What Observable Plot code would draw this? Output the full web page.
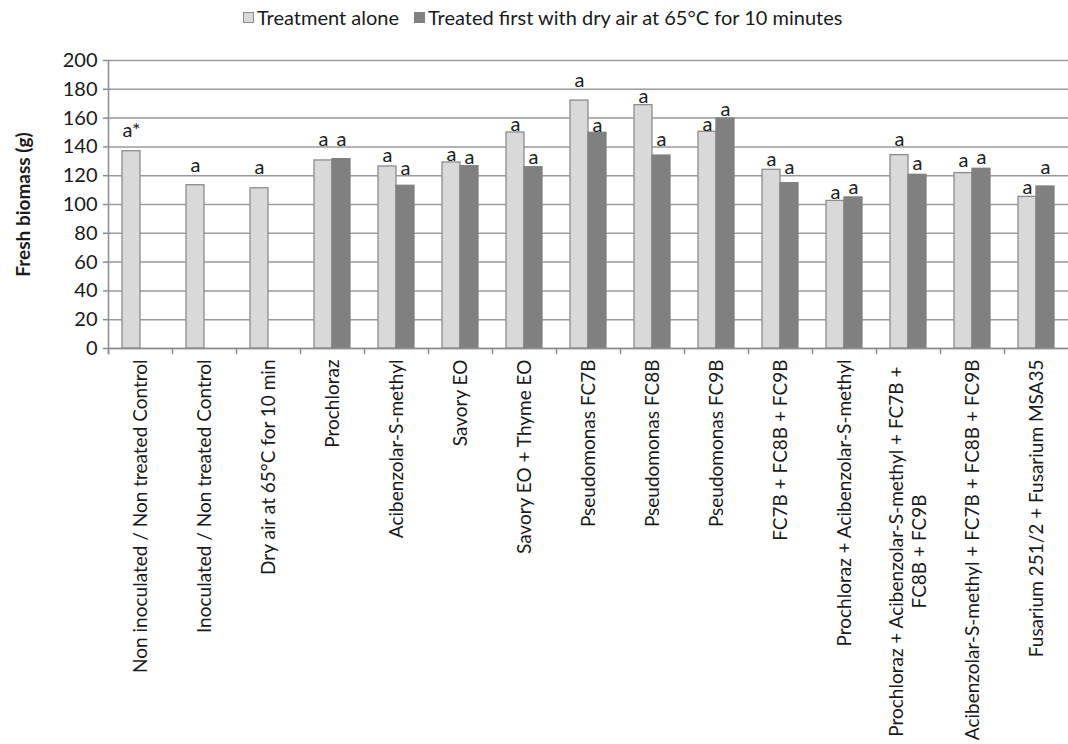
<!DOCTYPE html>
<html><head><meta charset="utf-8">
<script src="https://cdn.jsdelivr.net/npm/d3@7"></script>
<script src="https://cdn.jsdelivr.net/npm/@observablehq/plot@0.6"></script>
<style>
body{margin:0;background:#fff;font-family:Lato,"Open Sans",sans-serif;color:#1a1a1a;}
#legend{height:36px;position:relative;font-size:20px;width:1068px;}
.item{position:absolute;top:5px;display:flex;align-items:center;white-space:nowrap;}
.sw{width:9px;height:9px;margin-right:3px;border:1px solid #8c8c8c;}
</style></head><body>
<div id="legend"></div>
<div id="chart"></div>
<script>
const categories = [
  "Non inoculated / Non treated Control",
  "Inoculated / Non treated Control",
  "Dry air at 65°C for 10 min",
  "Prochloraz",
  "Acibenzolar-S-methyl",
  "Savory EO",
  "Savory EO + Thyme EO",
  "Pseudomonas FC7B",
  "Pseudomonas FC8B",
  "Pseudomonas FC9B",
  "FC7B + FC8B + FC9B",
  "Prochloraz + Acibenzolar-S-methyl",
  "Prochloraz + Acibenzolar-S-methyl + FC7B +\nFC8B + FC9B",
  "Acibenzolar-S-methyl + FC7B + FC8B + FC9B",
  "Fusarium 251/2 + Fusarium MSA35"
];
const seriesNames = ["Treatment alone", "Treated first with dry air at 65°C for 10 minutes"];
const treatmentAlone = [137.0, 113.4, 111.3, 130.6, 126.4, 129.2, 150.0, 172.2, 169.0, 150.5, 124.1, 102.5, 134.3, 121.8, 105.3];
const treatedFirst   = [null, null, null, 131.5, 113.0, 126.6, 125.9, 149.8, 134.0, 159.7, 114.8, 104.9, 120.6, 124.8, 112.5];
const lettersAlone = ["a*", "a", "a", "a", "a", "a", "a", "a", "a", "a", "a", "a", "a", "a", "a"];
const lettersFirst = [null, null, null, "a", "a", "a", "a", "a", "a", "a", "a", "a", "a", "a", "a"];
const letterAtAlone = [151.4, 127.0, 125.5, 145.0, 134.0, 134.7, 155.3, 186.0, 175.0, 155.3, 131.0, 108.1, 145.1, 130.6, 112.0];
const letterAtFirst = [null, null, null, 145.4, 124.8, 132.9, 132.4, 154.9, 145.4, 166.0, 125.5, 112.0, 128.2, 132.4, 125.9];
const yTicks = [0, 20, 40, 60, 80, 100, 120, 140, 160, 180, 200];
const yTitle = "Fresh biomass (g)";
const colors = ["#d9d9d9", "#808080"];
const strokes = ["#8c8c8c", "#808080"];

const rows = [];
categories.forEach((c, i) => {
  [treatmentAlone, treatedFirst].forEach((arr, s) => {
    if (arr[i] != null) rows.push({
      category: c, series: seriesNames[s], value: arr[i],
      letter: s === 0 ? lettersAlone[i] : lettersFirst[i],
      letterAt: s === 0 ? letterAtAlone[i] : letterAtFirst[i]
    });
  });
});

// legend
const legend = d3.select("#legend");
const legendLeft = [243, 414];
seriesNames.forEach((n, s) => {
  const it = legend.append("div").attr("class", "item").style("left", legendLeft[s] + "px");
  it.append("div").attr("class", "sw").style("background", colors[s]).style("border-color", strokes[s]);
  it.append("span").text(n);
});

const W = 1068, H = 708, mt = 24, mb = 396, ml = 107, mr = 0;
const plotH = H - mt - mb;
const axisGray = "#8c8c8c";
const labelPad = 11;
const labelSize = 19;
const multiLine = categories.filter(c => c.includes("\n"));

const chart = Plot.plot({
  width: W, height: H,
  marginTop: mt, marginBottom: mb, marginLeft: ml, marginRight: mr,
  style: {fontFamily: "Lato, 'Open Sans', sans-serif", fontSize: "20px", color: "#1a1a1a", background: "#fff"},
  fx: {domain: categories, padding: 0, label: null, axis: null},
  x: {domain: seriesNames, paddingInner: 0, paddingOuter: 0.74, axis: null},
  y: {domain: [0, 200], label: null, axis: null},
  color: {domain: seriesNames, range: colors},
  marks: [
    Plot.gridY(yTicks, {stroke: "#9a9a9a", strokeOpacity: 1, strokeWidth: 1.5}),
    Plot.barY(rows, {fx: "category", x: "series", y: "value", fill: "series",
      stroke: d => strokes[seriesNames.indexOf(d.series)], strokeWidth: 1.3}),
    Plot.ruleY([0], {stroke: axisGray, strokeWidth: 1.5}),
    Plot.frame({anchor: "left", facetAnchor: "left", insetBottom: -5, stroke: axisGray, strokeWidth: 1.5}),
    Plot.frame({anchor: "left", insetTop: plotH, insetBottom: -5, stroke: axisGray, strokeWidth: 1.5}),
    Plot.axisY(yTicks, {tickSize: 5, tickPadding: 6, stroke: axisGray, strokeWidth: 1.5, label: null, fontSize: 20}),
    Plot.text([yTitle], {frameAnchor: "left", facetAnchor: "left", rotate: -90, textAnchor: "middle", dx: -85, fontWeight: "bold", fontSize: 19}),
    Plot.axisFx({anchor: "bottom", tickSize: 0, tickRotate: -90, tickPadding: labelPad, label: null, fontSize: labelSize,
      tickFormat: d => d.includes("\n") ? "" : d}),
    Plot.text(multiLine, {fx: d => d, text: d => d.split("\n")[0],
      frameAnchor: "bottom", rotate: -90, textAnchor: "end", dy: labelPad + 7, dx: -6, fontSize: labelSize}),
    Plot.text(multiLine, {fx: d => d, text: d => d.split("\n")[1],
      frameAnchor: "bottom", rotate: -90, textAnchor: "middle", dy: 203, dx: 17, fontSize: labelSize}),
    Plot.text(rows, {fx: "category", x: "series", y: "letterAt", text: "letter", fontSize: 20})
  ]
});
document.getElementById("chart").appendChild(chart);
</script>
</body></html>
